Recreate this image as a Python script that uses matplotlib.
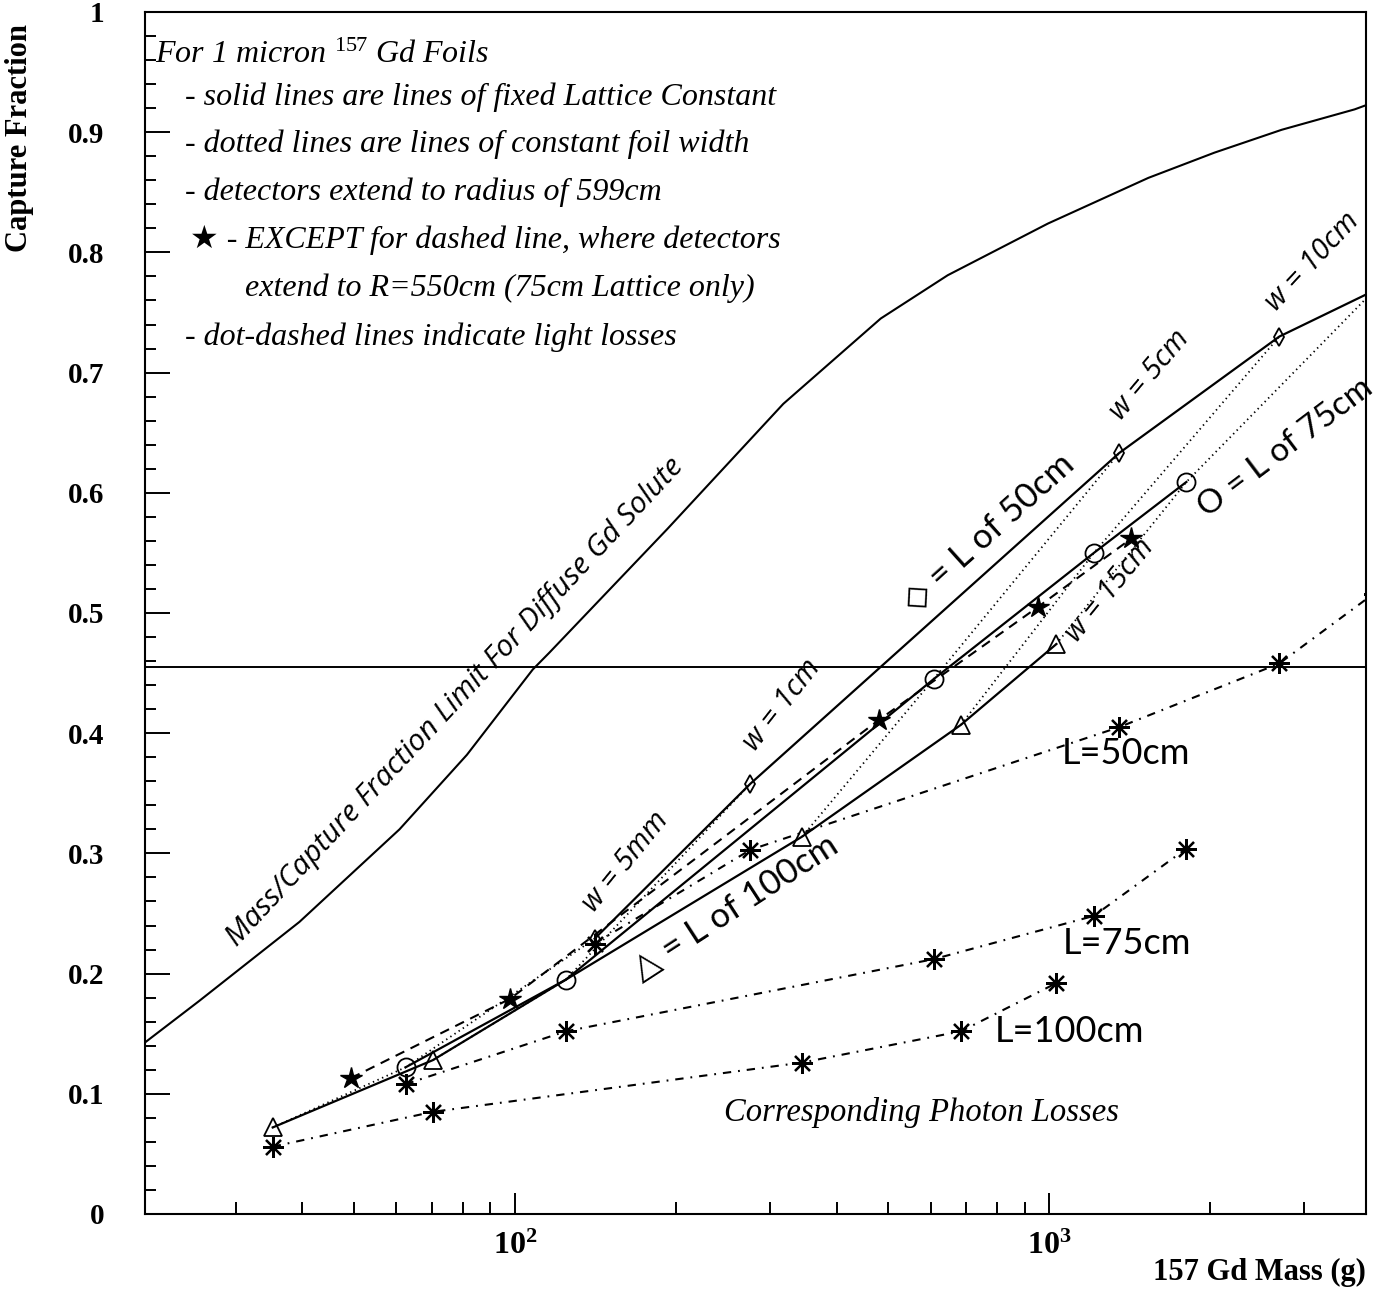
import matplotlib
matplotlib.use('Agg')
import matplotlib.pyplot as plt
from matplotlib.ticker import FixedLocator, NullFormatter, FixedFormatter, LogLocator, MultipleLocator

# ---- data ---------------------------------------------------------------
# Mass/capture fraction limit for diffuse Gd solute
limit_mass = [20, 25.6, 39.5, 60.8, 81.3, 108, 116, 193, 318, 484, 646, 995, 1534, 2040, 2725, 3733, 3950]
limit_frac = [0.1405, 0.177, 0.243, 0.320, 0.382, 0.453, 0.467, 0.570, 0.674, 0.745, 0.781, 0.824, 0.862,
              0.883, 0.902, 0.919, 0.923]
solute_level = 0.455

foil_widths = ['5mm', '1cm', '5cm', '10cm', '15cm']

# fixed lattice constant lines (one point per foil width)
mass_l50 = [141, 276, 1352, 2698, 4050]
frac_l50 = [0.229, 0.358, 0.633, 0.730, 0.768]
mass_l75 = [62.4, 124.6, 608, 1213, 1807]
frac_l75 = [0.122, 0.195, 0.445, 0.550, 0.609]
mass_l100 = [35.2, 70.2, 345, 684, 1031]
frac_l100 = [0.072, 0.128, 0.314, 0.407, 0.474]

# 75cm lattice, detectors to R=550cm
mass_r550 = [49.3, 97.9, 480, 953, 1426]
frac_r550 = [0.113, 0.179, 0.411, 0.505, 0.562]

# with photon losses
loss_l50 = [0.225, 0.303, 0.405, 0.458, 0.516]
loss_l75 = [0.108, 0.152, 0.212, 0.248, 0.304]
loss_l100 = [0.056, 0.085, 0.126, 0.152, 0.192]

# ---- style --------------------------------------------------------------
W, H = 1382, 1291
plt.rcParams.update({
    'font.family': ['Liberation Serif', 'DejaVu Sans'],
    'mathtext.fontset': 'custom',
    'mathtext.rm': 'Liberation Serif',
    'mathtext.it': 'Liberation Serif:italic',
    'mathtext.bf': 'Liberation Serif:bold',
    'lines.scale_dashes': False,
})

SANS = ['Lato', 'DejaVu Sans']
ITSANS = ['Open Sans', 'DejaVu Sans']


def px(x, y):
    return x / W, 1 - y / H


fig = plt.figure(figsize=(W / 100, H / 100), dpi=100)
ax = fig.add_axes([145 / W, (H - 1214) / H, 1221 / W, 1202 / H])
ax.set_xscale('log')
ax.set_xlim(20.3, 3920)
ax.set_ylim(0, 1)

for s in ax.spines.values():
    s.set_linewidth(1.5)

ax.xaxis.set_major_locator(FixedLocator([100, 1000]))
ax.xaxis.set_major_formatter(FixedFormatter([r'$\mathbf{10^{2}}$', r'$\mathbf{10^{3}}$']))
ax.xaxis.set_minor_locator(LogLocator(base=10, subs=range(2, 10)))
ax.xaxis.set_minor_formatter(NullFormatter())
ax.yaxis.set_major_locator(MultipleLocator(0.1))
ax.yaxis.set_minor_locator(MultipleLocator(0.02))
ax.yaxis.set_major_formatter(plt.FuncFormatter(lambda v, p: '%g' % round(v, 1)))
ax.tick_params(which='both', direction='in', top=False, right=False, width=1.4)
ax.tick_params(axis='y', which='major', length=18, pad=29, labelsize=21)
ax.tick_params(axis='y', which='minor', length=8)
ax.tick_params(axis='x', which='major', length=15, pad=13, labelsize=23)
ax.tick_params(axis='x', which='minor', length=9)
for lab in ax.get_yticklabels():
    lab.set_fontweight('bold')

# ---- curves -------------------------------------------------------------
ax.plot(limit_mass, limit_frac, color='k', lw=1.5)
ax.axhline(solute_level, color='k', lw=1.4)

dotted = (0, (1.0, 2.6))
dashed = (0, (7, 5))
dashdot = (0, (6, 5, 1.3, 5))

for i in range(len(foil_widths)):
    ax.plot([mass_l100[i], mass_l75[i], mass_l50[i]], [frac_l100[i], frac_l75[i], frac_l50[i]],
            color='k', lw=1.3, ls=dotted)

ax.plot(mass_l50, frac_l50, color='k', lw=1.6, marker='d', ms=9, mfc='none', mew=1.3)
ax.plot(mass_l75, frac_l75, color='k', lw=1.6, marker='o', ms=13, mfc='none', mew=1.3)
ax.plot(mass_l100, frac_l100, color='k', lw=1.6, marker='^', ms=13, mfc='none', mew=1.3)
ax.plot(mass_r550, frac_r550, color='k', lw=1.5, ls=dashed, marker='*', ms=16)

star8 = (8, 2, 0)
ax.plot(mass_l50, loss_l50, color='k', lw=1.5, ls=dashdot, marker=star8, ms=15, mew=1.6)
ax.plot(mass_l75, loss_l75, color='k', lw=1.5, ls=dashdot, marker=star8, ms=15, mew=1.6)
ax.plot(mass_l100, loss_l100, color='k', lw=1.5, ls=dashdot, marker=star8, ms=15, mew=1.6)

# ---- texts --------------------------------------------------------------
notes = [
    (155, 55, r'For 1 micron $^{\mathit{157}}$ Gd Foils'),
    (185, 97, '- solid lines are lines of fixed Lattice Constant'),
    (185, 144, '- dotted lines are lines of constant foil width'),
    (185, 192, '- detectors extend to radius of 599cm'),
    (190, 240, '\u2605 - EXCEPT for dashed line, where detectors'),
    (245, 288, 'extend to R=550cm (75cm Lattice only)'),
    (185, 337, '- dot-dashed lines indicate light losses'),
]
for x, y, t in notes:
    fig.text(*px(x, y), t, fontsize=23, style='italic', ha='left', va='center')

fig.text(*px(921, 1113), 'Corresponding Photon Losses', fontsize=23.5, style='italic', ha='center', va='center')

rot_labels = [
    (455, 702, 47, 'Mass/Capture Fraction Limit For Diffuse Gd Solute', 21.5),
    (626, 862, 51, 'w = 5mm', 21),
    (782, 705, 52, 'w = 1cm', 21),
    (1150, 375, 50, 'w = 5cm', 21),
    (1313, 262, 47, 'w = 10cm', 21),
    (1110, 590, 51, 'w = 15cm', 21),
]
for x, y, r, t, fs in rot_labels:
    fig.text(*px(x, y), t, rotation=r, rotation_mode='anchor', ha='center', va='center',
             fontsize=fs, family=ITSANS, style='italic')

key_labels = [
    (988, 532, 42, '\u25c7 = L of 50cm', 25),
    (1285, 448, 37, 'O = L of 75cm', 24),
    (735, 907, 33, '\u25b3 = L of 100cm', 25),
    (1126, 753, 0, 'L=50cm', 26),
    (1127, 943, 0, 'L=75cm', 26),
    (1069, 1032, 0, 'L=100cm', 26),
]
for x, y, r, t, fs in key_labels:
    fig.text(*px(x, y), t, rotation=r, rotation_mode='anchor', ha='center', va='center',
             fontsize=fs, family=SANS)

fig.text(*px(20, 138), 'Capture Fraction', rotation=90, ha='center', va='center',
         fontsize=22, fontweight='bold')
fig.text(*px(1366, 1272), '157 Gd Mass (g)', ha='right', va='center', fontsize=22, fontweight='bold')

fig.savefig('out.png', dpi=100)
